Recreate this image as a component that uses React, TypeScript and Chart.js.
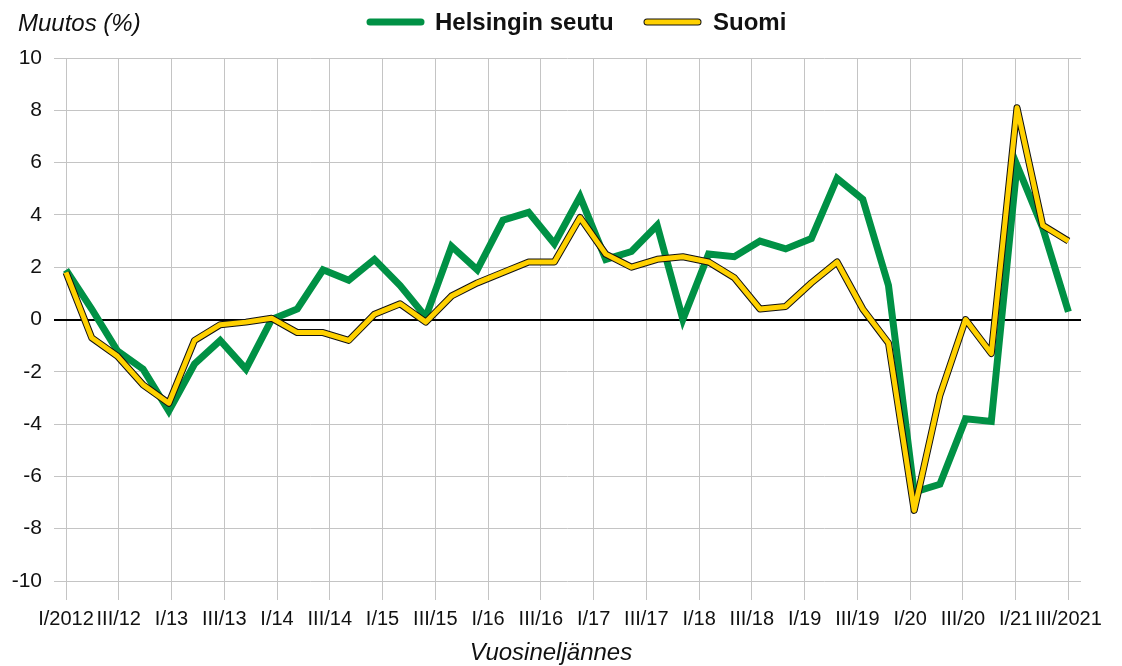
import React, { useEffect, useRef } from "react";
import { Chart, registerables } from "chart.js";

Chart.register(...registerables);

const X_LABELS = [
  "I/2012", "III/12", "I/13", "III/13", "I/14", "III/14", "I/15", "III/15", "I/16", "III/16",
  "I/17", "III/17", "I/18", "III/18", "I/19", "III/19", "I/20", "III/20", "I/21", "III/2021",
];

const HELSINKI = [
  1.9, 0.4, -1.2, -1.9, -3.5, -1.7, -0.8, -1.9, 0.0, 0.4,
  1.9, 1.5, 2.3, 1.3, 0.1, 2.8, 1.9, 3.8, 4.1, 2.9,
  4.7, 2.3, 2.6, 3.6, 0.0, 2.5, 2.4, 3.0, 2.7, 3.1,
  5.4, 4.6, 1.3, -6.6, -6.3, -3.8, -3.9, 5.9, 3.5, 0.3,
];

const SUOMI = [
  1.8, -0.7, -1.4, -2.5, -3.2, -0.8, -0.2, -0.1, 0.05, -0.5,
  -0.5, -0.8, 0.2, 0.6, -0.1, 0.9, 1.4, 1.8, 2.2, 2.2,
  3.9, 2.5, 2.0, 2.3, 2.4, 2.2, 1.6, 0.4, 0.5, 1.4,
  2.2, 0.4, -0.9, -7.3, -2.9, 0.0, -1.3, 8.1, 3.6, 3.0,
];

const Y_TICKS = [-10, -8, -6, -4, -2, 0, 2, 4, 6, 8, 10];

const SERIES_NAMES = ["Helsingin seutu", "Suomi"];
const Y_TITLE = "Muutos (%)";
const X_TITLE = "Vuosineljännes";

const GREEN = "#009145";
const YELLOW = "#FFD100";
const FONT = "'Liberation Sans', Arial, sans-serif";

const toPoints = (arr: number[]) => arr.map((v, i) => ({ x: i, y: v }));

const decorPlugin = {
  id: "decor",
  afterDraw(chart: any) {
    const ctx = chart.ctx;
    ctx.save();
    ctx.fillStyle = "#111";
    ctx.textBaseline = "alphabetic";
    ctx.font = `italic 24px ${FONT}`;
    ctx.textAlign = "left";
    ctx.fillText(Y_TITLE, 18, 31);
    ctx.textAlign = "center";
    ctx.fillText(X_TITLE, 551, 660);
    ctx.lineCap = "round";
    ctx.strokeStyle = GREEN;
    ctx.lineWidth = 7;
    ctx.beginPath();
    ctx.moveTo(370, 22);
    ctx.lineTo(421, 22);
    ctx.stroke();
    ctx.strokeStyle = "#111";
    ctx.lineWidth = 7;
    ctx.beginPath();
    ctx.moveTo(647, 22);
    ctx.lineTo(698, 22);
    ctx.stroke();
    ctx.strokeStyle = YELLOW;
    ctx.lineWidth = 5;
    ctx.beginPath();
    ctx.moveTo(647, 22);
    ctx.lineTo(698, 22);
    ctx.stroke();
    ctx.font = `bold 24px ${FONT}`;
    ctx.textAlign = "left";
    ctx.fillText(SERIES_NAMES[0], 435, 30);
    ctx.fillText(SERIES_NAMES[1], 713, 30);
    ctx.restore();
  },
};

export default function App() {
  const ref = useRef<HTMLCanvasElement | null>(null);
  useEffect(() => {
    document.body.style.margin = "0";
    const chart = new Chart(ref.current as HTMLCanvasElement, {
      type: "line",
      data: {
        datasets: [
          {
            label: SERIES_NAMES[1],
            data: toPoints(SUOMI),
            borderColor: YELLOW,
            borderWidth: 5,
            borderJoinStyle: "round",
            pointRadius: 0,
            tension: 0,
            order: 0,
          },
          {
            label: SERIES_NAMES[1] + " outline",
            data: toPoints(SUOMI),
            borderColor: "#111",
            borderWidth: 7,
            borderJoinStyle: "round",
            pointRadius: 0,
            tension: 0,
            order: 1,
          },
          {
            label: SERIES_NAMES[0],
            data: toPoints(HELSINKI),
            borderColor: GREEN,
            borderWidth: 7,
            borderJoinStyle: "miter",
            pointRadius: 0,
            tension: 0,
            order: 2,
          },
        ],
      },
      options: {
        animation: false,
        responsive: false,
        maintainAspectRatio: false,
        parsing: false as any,
        layout: { padding: { left: 0, top: 58, right: 41, bottom: 0 } },
        plugins: {
          legend: { display: false },
          title: { display: false },
          tooltip: { enabled: false },
        },
        scales: {
          x: {
            type: "linear",
            min: -0.467,
            max: 39.49,
            border: { display: false },
            grid: { color: "#c4c4c4", lineWidth: 1, drawTicks: true, tickLength: 19 },
            ticks: {
              autoSkip: false,
              maxRotation: 0,
              minRotation: 0,
              padding: 7,
              color: "#111",
              font: { family: FONT, size: 20 },
              callback: (_v: any, i: number) => X_LABELS[i],
            },
            afterBuildTicks: (scale: any) => {
              scale.ticks = X_LABELS.map((_, k) => ({ value: (39 * k) / 19 }));
            },
            afterFit: (scale: any) => {
              scale.height = 85;
            },
          },
          y: {
            type: "linear",
            min: -10,
            max: 10,
            border: { display: false },
            grid: {
              drawTicks: false,
              color: (c: any) => (c.tick && c.tick.value === 0 ? "#000" : "#c4c4c4"),
              lineWidth: (c: any) => (c.tick && c.tick.value === 0 ? 2 : 1),
            },
            ticks: {
              padding: 12,
              color: "#111",
              font: { family: FONT, size: 21 },
            },
            afterBuildTicks: (scale: any) => {
              scale.ticks = Y_TICKS.map((v) => ({ value: v }));
            },
            afterFit: (scale: any) => {
              scale.width = 54;
            },
          },
        },
      } as any,
      plugins: [decorPlugin],
    });
    return () => chart.destroy();
  }, []);
  return (
    <div style={{ position: "absolute", left: 0, top: 0, width: 1122, height: 666, background: "#fff" }}>
      <canvas ref={ref} width={1122} height={666} style={{ width: 1122, height: 666 }} />
    </div>
  );
}
